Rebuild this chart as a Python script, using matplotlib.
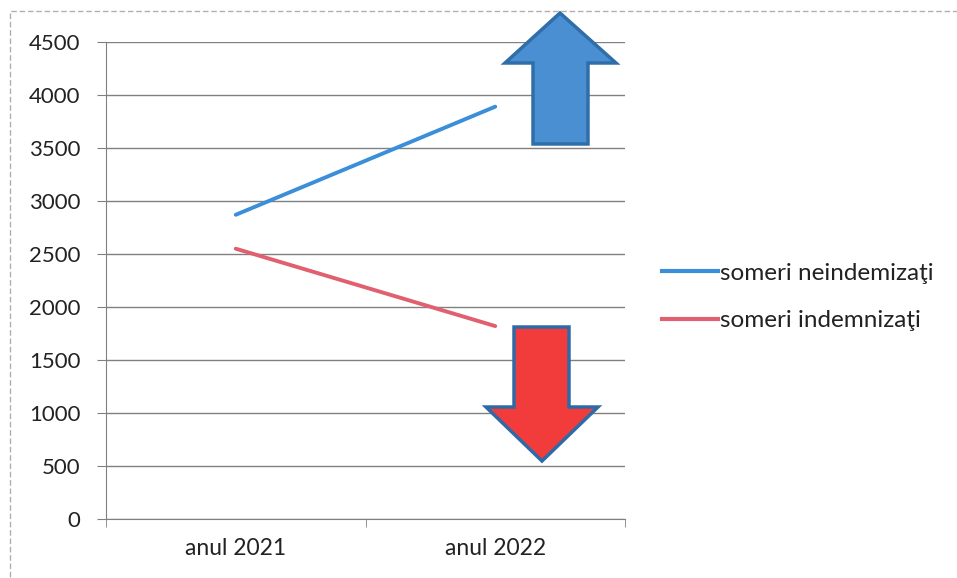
import matplotlib
matplotlib.use("Agg")
import matplotlib.pyplot as plt
from matplotlib.patches import Polygon
from matplotlib.lines import Line2D

categories = ["anul 2021", "anul 2022"]
neindemnizati = [2870, 3890]
indemnizati = [2550, 1820]
series_names = ["someri neindemizaţi", "someri indemnizaţi"]
yticks = [0, 500, 1000, 1500, 2000, 2500, 3000, 3500, 4000, 4500]

plt.rcParams['font.family'] = ['Lato', 'DejaVu Sans']

W, H = 957, 578
fig = plt.figure(figsize=(W / 100, H / 100), dpi=100)
L, R, T, B = 106, 625, 42, 519
ax = fig.add_axes([L / W, 1 - B / H, (R - L) / W, (B - T) / H])

x = list(range(len(categories)))
blue = "#3b8fd8"
red = "#e06070"
ax.plot(x, neindemnizati, color=blue, lw=2.8, solid_capstyle='round', label=series_names[0])
ax.plot(x, indemnizati, color=red, lw=2.8, solid_capstyle='round', label=series_names[1])

ax.set_xlim(-0.5, len(categories) - 0.5)
ax.set_ylim(0, 4500)
ax.set_yticks(yticks)
ax.set_yticklabels([str(v) for v in yticks])
ax.set_xticks(x)
ax.set_xticklabels(categories)
ax.set_xticks([-0.5, 0.5, 1.5], minor=True)

ax.grid(axis='y', color='#808080', lw=1)
ax.set_axisbelow(True)
for s in ['top', 'right']:
    ax.spines[s].set_visible(False)
ax.spines['left'].set_color('#808080')
ax.spines['bottom'].set_color('#808080')
ax.tick_params(axis='y', length=6.5, color='#808080', pad=12, labelsize=16, labelcolor='#222222')
ax.tick_params(axis='x', which='major', length=0, pad=14, labelsize=16.5, labelcolor='#222222')
ax.tick_params(axis='x', which='minor', length=6, color='#808080')

# Legend
fs_leg = 17.5
leg = fig.legend(handles=[Line2D([], [], color=blue, lw=3),
                          Line2D([], [], color=red, lw=3)],
                 labels=series_names, loc='center left',
                 bbox_to_anchor=(662 / W, 1 - 297 / H), frameon=False,
                 fontsize=fs_leg, handlelength=2.3, handletextpad=0.08,
                 labelspacing=1.1, labelcolor='#222222', borderpad=0, borderaxespad=0)

# Decorative arrows (pixel positions converted to axes fraction)
def to_ax(pts):
    return [((px - L) / (R - L), (B - py) / (B - T)) for px, py in pts]

up = [(560, 13), (616, 63), (588, 63), (588, 144), (533, 144), (533, 63), (505, 63)]
down = [(514, 327), (569, 327), (569, 407), (598, 407), (542, 461), (486, 407), (514, 407)]
ax.add_patch(Polygon(to_ax(up), closed=True, transform=ax.transAxes, clip_on=False,
                     facecolor='#4a8fd2', edgecolor='#2f6ea8', lw=2.5, zorder=5))
ax.add_patch(Polygon(to_ax(down), closed=True, transform=ax.transAxes, clip_on=False,
                     facecolor='#f23c3c', edgecolor='#2f6aa8', lw=2.5, zorder=5))

# Outer chart border
fig.patches.append(plt.Rectangle((10 / W, -0.1), 1.2, 1 - 11 / H + 0.1, transform=fig.transFigure,
                                 fill=False, edgecolor='#b0b0b0', lw=1, ls=(0, (4, 2))))

fig.savefig("out.png", dpi=100)
